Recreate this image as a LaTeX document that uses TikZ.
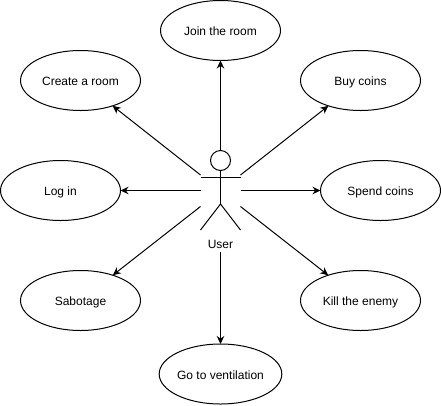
\documentclass[tikz,border=0pt]{standalone}
\usepackage{fontspec}
\setmainfont{Liberation Sans}
\usetikzlibrary{shapes.geometric,arrows.meta}
\tikzset{
  usecase/.style={draw=black,line width=1pt,ellipse,minimum width=120pt,minimum height=60pt,inner sep=0pt,outer sep=0pt,font=\fontsize{12pt}{14pt}\selectfont,text=black,text height=10pt,text depth=0pt},
  actorline/.style={draw=black,line width=1pt},
  assoc/.style={draw=black,line width=1pt,-{Stealth[length=8pt,width=7.5pt,inset=2.6pt]},shorten >=0pt},
  actorlabel/.style={inner sep=0pt,font=\fontsize{12pt}{14pt}\selectfont,text=black,text height=10pt,text depth=0pt}
}
\begin{document}
\begin{tikzpicture}[x=1pt,y=-1pt]
\useasboundingbox (0,0) rectangle (441,405);
\node[usecase] (join) at (220.5,30.5) {Join the room};
\node[usecase] (create) at (80.5,80.5) {Create a room};
\node[usecase] (buy) at (360.5,80.5) {Buy coins};
\node[usecase] (login) at (60.5,190.5) {Log in};
\node[usecase] (spend) at (380.5,190.5) {Spend coins};
\node[usecase] (sabotage) at (80.5,300.5) {Sabotage};
\node[usecase] (kill) at (360.5,300.5) {Kill the enemy};
\node[usecase] (vent) at (220.5,374) {Go to ventilation};
% actor
\node[draw=black,line width=1pt,circle,minimum size=20pt,inner sep=0pt,outer sep=0pt] (head) at (220.5,160.5) {};
\coordinate (armL) at (200.5,177);
\coordinate (armR) at (240.5,177);
\coordinate (hip) at (220.5,204);
\coordinate (legL) at (200.5,230);
\coordinate (legR) at (240.5,230);
\draw[actorline] (head.south) -- (hip);
\draw[actorline] (armL) -- (armR);
\draw[actorline] (legL) -- (hip) -- (legR);
\node[actorlabel] (user) at (220.5,243.5) {User};
% connector free ends
\coordinate (sTop) at (220.5,150.5);
\coordinate (sUL) at (200.5,175);
\coordinate (sUR) at (240.5,175);
\coordinate (sL) at (200.5,190.5);
\coordinate (sR) at (240.5,190.5);
\coordinate (sLL) at (200.5,206.5);
\coordinate (sLR) at (240.5,206.5);
\coordinate (sB) at (220.5,251.5);
\draw[assoc] (sTop) -- (join);
\draw[assoc] (sUL) -- (create);
\draw[assoc] (sUR) -- (buy);
\draw[assoc] (sL) -- (login);
\draw[assoc] (sR) -- (spend);
\draw[assoc] (sLL) -- (sabotage);
\draw[assoc] (sLR) -- (kill);
\draw[assoc] (sB) -- (vent);
\end{tikzpicture}
\end{document}
